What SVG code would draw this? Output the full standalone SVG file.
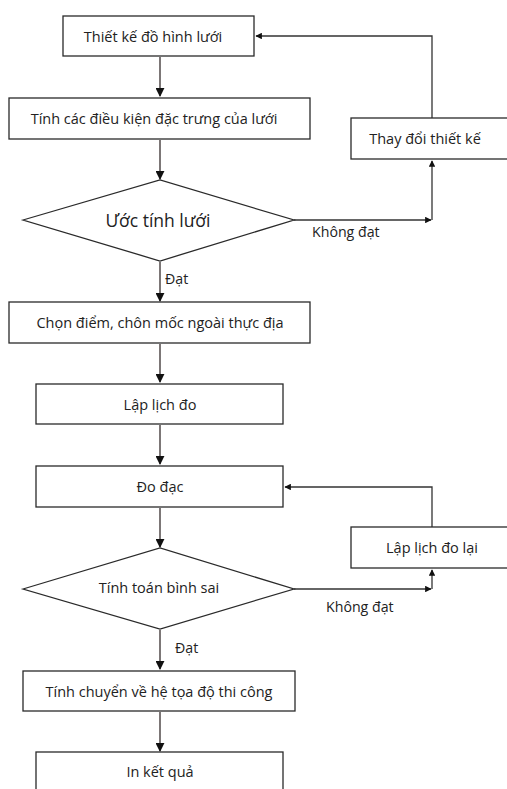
<svg xmlns="http://www.w3.org/2000/svg" width="507" height="789" viewBox="0 0 507 789">
<style>
.box{fill:#fff;stroke:#2a2a2a;stroke-width:1.3}
.t{font-family:"Open Sans","Liberation Sans",sans-serif;font-size:14.5px;fill:#222;text-anchor:middle;dominant-baseline:central}
.lbl{font-family:"Open Sans","Liberation Sans",sans-serif;font-size:14.2px;fill:#222}
.c{fill:none;stroke:#6e6868;stroke-width:1.8}
.c2{fill:none;stroke:#333;stroke-width:1.3}
</style>
<defs>
<marker id="ah" viewBox="0 0 10 10" refX="9" refY="5" markerWidth="5" markerHeight="5" orient="auto"><path d="M0,0L10,5L0,10z" fill="#111"/></marker>
</defs>
<rect width="507" height="789" fill="#fff"/>
<g id="connectors">
<path class="c" d="M160,57V96" marker-end="url(#ah)"/>
<path class="c" d="M160,140V179" marker-end="url(#ah)"/>
<path class="c2" d="M294,220H431" marker-end="url(#ah)"/>
<path class="c2" d="M432,220V161" marker-end="url(#ah)"/>
<path class="c2" d="M432,118V36H256" marker-end="url(#ah)"/>
<path class="c" d="M160,262V301" marker-end="url(#ah)"/>
<path class="c" d="M160,344V382" marker-end="url(#ah)"/>
<path class="c" d="M160,425V464" marker-end="url(#ah)"/>
<path class="c" d="M160,508V547" marker-end="url(#ah)"/>
<path class="c2" d="M294,589H431" marker-end="url(#ah)"/>
<path class="c2" d="M432,589V570" marker-end="url(#ah)"/>
<path class="c2" d="M432,527V487H285" marker-end="url(#ah)"/>
<path class="c" d="M160,630V669" marker-end="url(#ah)"/>
<path class="c" d="M160,712V751" marker-end="url(#ah)"/>
</g>
<g id="n1"><rect class="box" x="63" y="16" width="191" height="40"/><text class="t" x="153" y="36">Thiết kế đồ hình lưới</text></g>
<g id="n2"><rect class="box" x="9" y="98" width="301" height="41"/><text class="t" x="154" y="118">Tính các điều kiện đặc trưng của lưới</text></g>
<g id="n3"><rect class="box" x="351" y="118" width="160" height="41"/><text class="t" x="425" y="138">Thay đổi thiết kế</text></g>
<g id="d1"><path class="box" d="M23,220L160,180L294,220L160,261z"/><text class="t" x="158" y="220" style="font-size:17.5px">Ước tính lưới</text></g>
<text class="lbl" x="312" y="237">Không đạt</text>
<text class="lbl" x="165" y="284">Đạt</text>
<g id="n4"><rect class="box" x="9" y="302" width="301" height="41"/><text class="t" x="160" y="322">Chọn điểm, chôn mốc ngoài thực địa</text></g>
<g id="n5"><rect class="box" x="36" y="384" width="247" height="40"/><text class="t" x="160" y="404">Lập lịch đo</text></g>
<g id="n6"><rect class="box" x="36" y="466" width="247" height="41"/><text class="t" x="160" y="486">Đo đạc</text></g>
<g id="n7"><rect class="box" x="351" y="527" width="160" height="41"/><text class="t" x="432" y="547">Lập lịch đo lại</text></g>
<g id="d2"><path class="box" d="M23,589L160,548L294,589L160,629z"/><text class="t" x="159" y="587">Tính toán bình sai</text></g>
<text class="lbl" x="326" y="612">Không đạt</text>
<text class="lbl" x="175" y="653">Đạt</text>
<g id="n8"><rect class="box" x="23" y="671" width="272" height="40"/><text class="t" x="159" y="691">Tính chuyển về hệ tọa độ thi công</text></g>
<g id="n9"><rect class="box" x="36" y="752" width="247" height="50"/><text class="t" x="160" y="771">In kết quả</text></g>
</svg>
